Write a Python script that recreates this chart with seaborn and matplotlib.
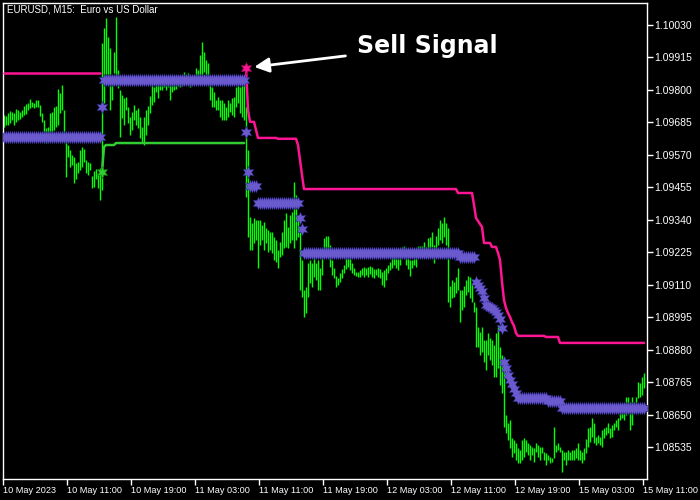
import numpy as np
import pandas as pd
import seaborn as sns
import matplotlib
matplotlib.use('Agg')
import matplotlib.pyplot as plt

sns.set_theme(style='dark')
plt.rcParams['font.family'] = ['Liberation Sans', 'DejaVu Sans']

# EURUSD M15 bars (price in points, 1 point = 0.00001)
bar_high = np.array([
    109712, 109708, 109719, 109726, 109722, 109719, 109733, 109730, 109722, 109730, 109744, 109751, 109754, 109768, 109758, 109754,
    109765, 109765, 109747, 109719, 109694, 109666, 109669, 109719, 109722, 109740, 109744, 109804, 109790, 109818, 109730, 109623,
    109606, 109588, 109570, 109563, 109542, 109545, 109588, 109598, 109591, 109552, 109545, 109542, 109496, 109513, 109521, 109506,
    109524, 109967, 110020, 110055, 109988, 109949, 109846, 109935, 110059, 109871, 109800, 109782, 109772, 109775, 109740, 109705,
    109722, 109747, 109730, 109737, 109705, 109669, 109705, 109730, 109744, 109779, 109821, 109811, 109853, 109828, 109825, 109836,
    109843, 109836, 109846, 109825, 109825, 109836, 109818, 109846, 109850, 109853, 109864, 109853, 109860, 109825, 109836, 109853,
    109878, 109871, 109924, 109970, 109935, 109906, 109896, 109825, 109811, 109793, 109765, 109775, 109765, 109765, 109754, 109740,
    109765, 109754, 109772, 109775, 109811, 109818, 109811, 109825, 109818, 109740, 109588, 109350, 109329, 109346, 109339, 109339,
    109339, 109321, 109332, 109311, 109304, 109297, 109297, 109279, 109268, 109233, 109261, 109297, 109339, 109364, 109314, 109357,
    109367, 109474, 109428, 109357, 109297, 109197, 109091, 109102, 109187, 109197, 109187, 109233, 109187, 109197, 109169, 109208,
    109275, 109282, 109282, 109251, 109197, 109169, 109141, 109134, 109151, 109166, 109180, 109208, 109205, 109205, 109187, 109169,
    109155, 109155, 109162, 109169, 109173, 109169, 109173, 109176, 109173, 109166, 109166, 109169, 109166, 109155, 109162, 109169,
    109180, 109190, 109208, 109215, 109208, 109201, 109212, 109243, 109247, 109208, 109205, 109197, 109197, 109201, 109212, 109247,
    109247, 109247, 109261, 109243, 109275, 109279, 109297, 109251, 109282, 109311, 109339, 109329, 109350, 109329, 109311, 109105,
    109127, 109119, 109137, 109169, 109091, 109091, 109105, 109127, 109141, 109137, 109116, 109049, 109031, 108960, 108943, 108960,
    108914, 108914, 108939, 108921, 108914, 108897, 108939, 108967, 108889, 108861, 108808, 108649, 108621, 108631, 108567, 108560,
    108550, 108532, 108525, 108560, 108567, 108560, 108550, 108543, 108535, 108532, 108550, 108543, 108535, 108535, 108518, 108514,
    108507, 108500, 108497, 108606, 108543, 108550, 108535, 108525, 108518, 108518, 108525, 108518, 108525, 108525, 108532, 108550,
    108525, 108518, 108532, 108564, 108603, 108606, 108638, 108621, 108571, 108578, 108571, 108596, 108603, 108606, 108621, 108603,
    108613, 108621, 108631, 108638, 108667, 108684, 108691, 108712, 108712, 108695, 108712, 108695, 108712, 108765, 108762, 108783,
    108797,
]) / 1e5

bar_low = np.array([
    109669, 109676, 109676, 109684, 109694, 109676, 109687, 109694, 109698, 109705, 109712, 109715, 109730, 109737, 109740, 109737,
    109740, 109740, 109708, 109687, 109652, 109613, 109648, 109648, 109652, 109659, 109669, 109676, 109719, 109730, 109648, 109492,
    109563, 109528, 109535, 109471, 109485, 109506, 109517, 109528, 109545, 109506, 109499, 109517, 109453, 109457, 109485, 109453,
    109410, 109446, 109754, 109853, 109846, 109730, 109765, 109860, 109828, 109807, 109634, 109701, 109676, 109730, 109684, 109641,
    109659, 109694, 109676, 109666, 109630, 109613, 109606, 109641, 109676, 109719, 109747, 109758, 109793, 109772, 109800, 109800,
    109811, 109800, 109811, 109765, 109793, 109800, 109804, 109814, 109811, 109814, 109825, 109836, 109836, 109811, 109818, 109825,
    109836, 109836, 109846, 109846, 109864, 109836, 109836, 109765, 109740, 109740, 109730, 109730, 109705, 109694, 109694, 109694,
    109705, 109722, 109712, 109705, 109740, 109754, 109719, 109705, 109694, 109421, 109279, 109233, 109233, 109258, 109268, 109169,
    109251, 109268, 109233, 109258, 109226, 109233, 109222, 109197, 109190, 109169, 109208, 109215, 109240, 109243, 109240, 109258,
    109268, 109240, 109268, 109279, 109091, 109066, 108996, 109010, 109066, 109116, 109102, 109137, 109127, 109091, 109091, 109144,
    109215, 109226, 109233, 109173, 109144, 109134, 109102, 109109, 109119, 109134, 109151, 109166, 109173, 109162, 109151, 109144,
    109141, 109137, 109137, 109144, 109137, 109144, 109137, 109148, 109137, 109134, 109144, 109137, 109134, 109109, 109102, 109127,
    109151, 109162, 109169, 109180, 109169, 109162, 109180, 109208, 109219, 109180, 109166, 109141, 109169, 109180, 109173, 109208,
    109222, 109219, 109222, 109205, 109226, 109240, 109243, 109187, 109233, 109251, 109268, 109258, 109279, 109251, 109049, 109031,
    109063, 109066, 109080, 109091, 108978, 109021, 109031, 109073, 109084, 109063, 109049, 109013, 108889, 108889, 108861, 108872,
    108836, 108808, 108861, 108843, 108826, 108783, 108783, 108815, 108755, 108726, 108606, 108585, 108560, 108532, 108500, 108514,
    108489, 108479, 108479, 108489, 108500, 108518, 108507, 108489, 108507, 108482, 108518, 108500, 108489, 108514, 108489, 108472,
    108489, 108479, 108482, 108497, 108518, 108525, 108518, 108447, 108489, 108472, 108489, 108489, 108489, 108489, 108497, 108489,
    108489, 108479, 108489, 108514, 108535, 108553, 108571, 108550, 108543, 108550, 108543, 108535, 108567, 108578, 108585, 108567,
    108571, 108596, 108606, 108596, 108631, 108638, 108631, 108649, 108677, 108596, 108613, 108656, 108691, 108709, 108712, 108719,
    108744,
]) / 1e5

# indicator buffers as (level, number of bars) runs, NaN = empty
upper_levels = [109860, np.nan, 109878, 109729, 109687, 109658, 109630, 109627, 109605, 109552, 109499, 109449, 109435,
                109393, 109347, 109336, 109325, 109315, 109258, 109244, 109223, 109198, 109120, 109056, 109028, 109010,
                108996, 108978, 108964, 108939, 108929, 108925, 108904]
upper_counts = [49, 72, 1, 1, 3, 1, 10, 10, 1, 1, 1, 77, 8,
                1, 1, 1, 1, 1, 4, 3, 1, 1, 1, 1, 1, 1,
                1, 1, 1, 1, 14, 7, 43]

lower_levels = [np.nan, 109510, 109598, 109605, 109612, np.nan]
lower_counts = [49, 1, 1, 5, 65, 200]

mid_levels = [109634, 109740, 109836, 109651, 109510, 109460, 109400, 109347, 109308, 109223, 109208,
              109120, 109109, 109099, 109088, 109063, 109038, 109035, 109031, 109028, 109021, 109014,
              109003, 108989, 108957, 108836, 108815, 108790, 108773, 108758, 108741, 108727,
              108709, 108698, 108673]
mid_counts = [49, 1, 71, 1, 1, 4, 21, 1, 1, 78, 8,
              1, 1, 1, 1, 1, 1, 1, 1, 1, 1, 1,
              1, 1, 1, 1, 1, 1, 1, 1, 1, 1,
              15, 7, 42]

sell_bar = 121
buy_bar = 49

time_labels = ['10 May 2023', '10 May 11:00', '10 May 19:00', '11 May 03:00', '11 May 11:00', '11 May 19:00',
               '12 May 03:00', '12 May 11:00', '12 May 19:00', '15 May 03:00', '15 May 11:00']
price_ticks = [1.08535, 1.08650, 1.08765, 1.08880, 1.08995, 1.09110, 1.09225,
               1.09340, 1.09455, 1.09570, 1.09685, 1.09800, 1.09915, 1.10030]

n = len(bar_high)
df = pd.DataFrame({
    'bar': np.arange(n),
    'high': bar_high,
    'low': bar_low,
    'upper': np.repeat(np.array(upper_levels, dtype=float) / 1e5, upper_counts),
    'lower': np.repeat(np.array(lower_levels, dtype=float) / 1e5, lower_counts),
    'mid': np.repeat(np.array(mid_levels, dtype=float) / 1e5, mid_counts),
})
df['upper_seg'] = df['upper'].isna().cumsum()

fig = plt.figure(figsize=(7, 5), dpi=100, facecolor='black')
ax = fig.add_axes([3 / 700, 21 / 500, 644 / 700, 476 / 500])
ax.set_facecolor('black')

ax.vlines(df['bar'], df['low'], df['high'], color='#00ff00', lw=1, zorder=2)

up = df.dropna(subset=['upper'])
sns.lineplot(data=up, x='bar', y='upper', units='upper_seg', estimator=None,
             color='#ff1493', lw=1.8, ax=ax, zorder=3)
lo = df.dropna(subset=['lower'])
sns.lineplot(data=lo, x='bar', y='lower', color='#32cd32', lw=1.8, ax=ax, zorder=3)

# middle buffer drawn as dense star arrows -> soft band
sns.scatterplot(data=df, x='bar', y='mid', marker=(6, 1, 0), s=95, color='#3a32a0',
                linewidth=0, ax=ax, zorder=4)
sns.scatterplot(data=df, x='bar', y='mid', marker=(6, 1, 0), s=60, color='#6a5acd',
                linewidth=0, ax=ax, zorder=4)

# signal arrows
ax.scatter([sell_bar], [df['upper'][sell_bar]], marker=(6, 1, 0), s=70, color='#ff1493',
           edgecolor='#a0105a', linewidth=0.5, zorder=5)
ax.scatter([buy_bar], [df['lower'][buy_bar]], marker=(6, 1, 0), s=70, color='#32cd32',
           edgecolor='#1d7a1d', linewidth=0.5, zorder=5)

ax.annotate('Sell Signal', xy=(sell_bar, df['upper'][sell_bar]), xycoords='data',
            xytext=(357, 454), textcoords='figure pixels', ha='left', va='center',
            color='white', fontsize=17, fontweight='bold', family='DejaVu Sans',
            arrowprops=dict(arrowstyle='-|>', color='white', lw=2, mutation_scale=22,
                            shrinkA=6, shrinkB=6))

ax.set_xlim(-0.5, n + 0.5)
ax.set_ylim(1.08422, 1.10108)

ax.yaxis.tick_right()
ax.set_yticks(price_ticks)
ax.set_yticklabels([f'{p:.5f}' for p in price_ticks])
ax.set_xticks(np.arange(len(time_labels)) * 32 - 0.5)
ax.set_xticklabels(time_labels)
for lbl in ax.get_xticklabels():
    lbl.set_ha('left')
ax.tick_params(axis='both', colors='white', length=4, width=1, direction='out', pad=1)
ax.tick_params(axis='y', left=False, right=True, labelsize=7.5)
ax.tick_params(axis='x', bottom=True, labelsize=6.6)
ax.set_xlabel('')
ax.set_ylabel('')
ax.grid(False)
for s in ax.spines.values():
    s.set_color('white')
    s.set_linewidth(1)
    s.set_visible(True)

fig.text(7 / 700, 1 - 10 / 500, 'EURUSD, M15:  Euro vs US Dollar', color='white', fontsize=7, va='center')

fig.savefig('out.png', dpi=100, facecolor='black')
